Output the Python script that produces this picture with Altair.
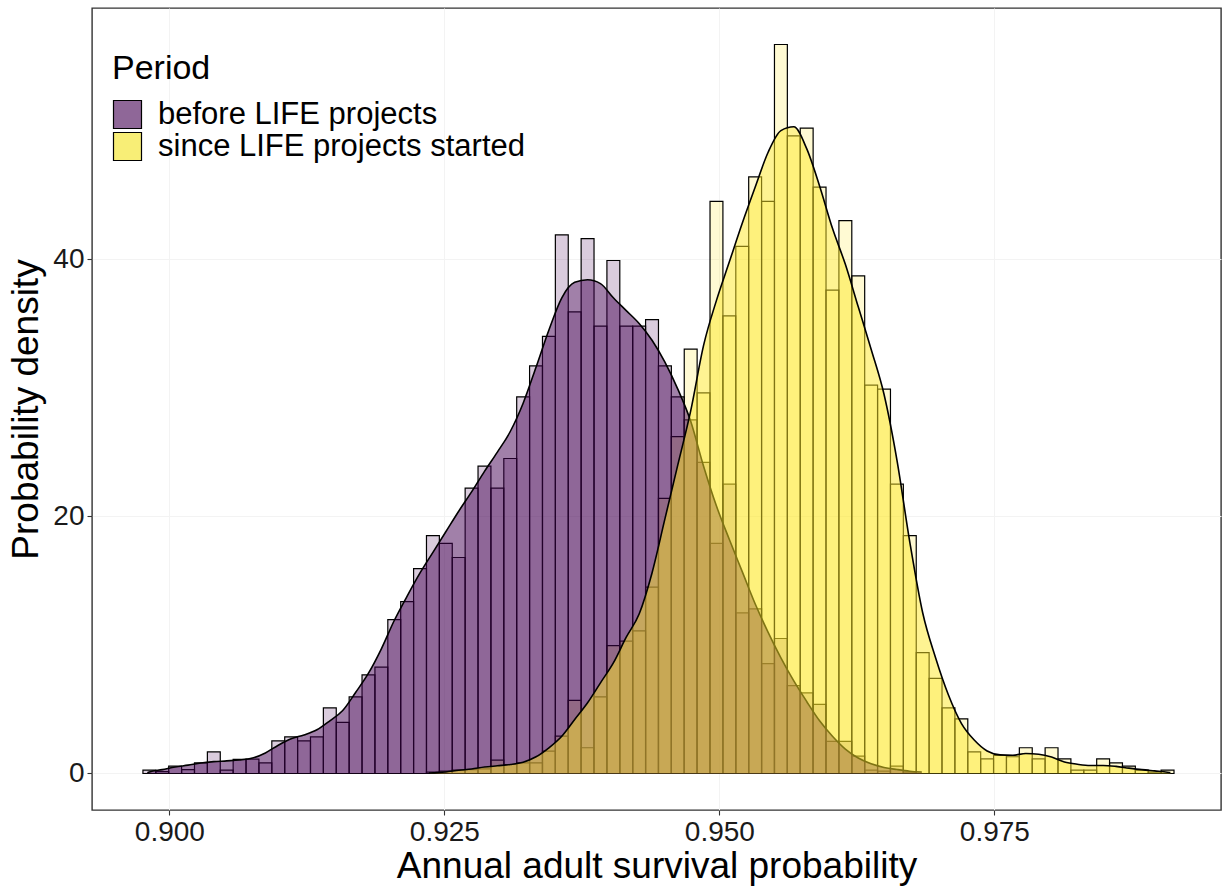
import altair as alt
import pandas as pd
import numpy as np

# ---------------- data ----------------
PERIODS = ["before LIFE projects", "since LIFE projects started"]
FILL_COLORS = ["#440154", "#FDE725"]           # viridis ends
LEGEND_COLORS = ["#8F6798", "#F8EE76"]         # key colours as seen in legend

BIN_START = 0.8976
BIN_WIDTH = 0.0011716
N_BINS = 80

BEFORE_HIST = [
    0.26, 0.15, 0.57, 0.30, 0.83, 1.68, 0.26, 1.09, 1.11, 0.83,
    2.54, 2.85, 2.54, 2.85, 5.10, 3.97, 5.96, 7.67, 8.27, 11.97,
    13.37, 15.94, 18.50, 17.90, 16.80, 22.20, 23.90, 22.20, 24.50, 29.30,
    31.70, 34.00, 41.90, 35.90, 41.60, 34.80, 39.90, 34.80, 34.80, 35.30,
    31.70, 29.30, 27.50, 24.20, 17.90, 22.50, 12.50, 12.80, 8.55, 10.50,
    6.84, 6.27, 5.37, 2.50, 2.50, 1.35, 0.26, 0.18, 0.57, 0.10,
    0, 0, 0, 0, 0, 0, 0, 0, 0, 0,
    0, 0, 0, 0, 0, 0, 0, 0, 0, 0,
]

SINCE_HIST = [
    0, 0, 0, 0, 0, 0, 0, 0, 0, 0,
    0, 0, 0, 0, 0, 0, 0, 0, 0, 0,
    0, 0, 0.10, 0.18, 0.26, 0.30, 0.36, 1.04, 0.70, 0.83,
    0.83, 1.74, 2.90, 5.68, 2.00, 5.96, 9.95, 10.30, 11.10, 14.50,
    21.40, 26.20, 33.00, 29.60, 44.50, 35.60, 41.00, 46.40, 44.50, 56.70,
    49.60, 50.20, 45.60, 37.60, 43.00, 38.70, 30.20, 29.90, 22.50, 18.50,
    9.40, 7.40, 5.10, 4.25, 1.68, 1.14, 1.40, 1.30, 2.00, 1.14,
    2.00, 1.14, 0.26, 0.26, 1.14, 0.83, 0.57, 0.26, 0.10, 0.26,
]

# density curves, sampled at bin centres (first bin index given), plus end points
BEFORE_DENS_FIRST_BIN = 0
BEFORE_DENS = [
    0.12, 0.30, 0.50, 0.65, 0.82, 0.92, 0.98, 1.05, 1.20, 1.60,
    2.20, 2.70, 3.00, 3.40, 4.10, 4.90, 6.30, 7.80, 9.70, 11.90,
    13.80, 15.60, 17.20, 18.80, 20.40, 21.90, 23.50, 25.00, 26.60, 28.80,
    31.60, 34.50, 37.00, 38.20, 38.40, 38.10, 37.00, 36.00, 35.00, 33.70,
    32.00, 29.90, 27.40, 23.90, 20.80, 18.20, 15.70, 13.20, 11.00, 9.00,
    7.20, 5.60, 4.10, 2.90, 1.90, 1.20, 0.75, 0.47, 0.31, 0.18,
]
BEFORE_DENS_START = (0.8980, 0.06)
BEFORE_DENS_END = (0.9684, 0.12)

SINCE_DENS_FIRST_BIN = 22
SINCE_DENS = [
    0.05, 0.12, 0.25, 0.35, 0.50, 0.60, 0.70, 0.88,
    1.30, 2.00, 2.90, 4.20, 5.50, 7.05, 8.60, 10.60, 12.40, 15.60,
    19.80, 24.00, 28.20, 33.30, 36.80, 39.80, 42.80, 45.60, 48.30, 50.00,
    50.30, 48.60, 45.70, 42.40, 39.60, 36.30, 33.00, 29.50, 24.40, 18.00,
    12.50, 9.00, 6.10, 3.90, 2.60, 1.75, 1.45, 1.42, 1.55, 1.50,
    1.28, 0.90, 0.72, 0.62, 0.62, 0.55, 0.42, 0.30, 0.20, 0.10,
]
SINCE_DENS_START = (0.9236, 0.03)
SINCE_DENS_END = (0.9910, 0.07)

X_TICKS = [0.900, 0.925, 0.950, 0.975]
Y_TICKS = [0, 20, 40]

# ---------------- tables ----------------
def hist_table(values, period):
    idx = np.arange(N_BINS)
    x0 = BIN_START + idx * BIN_WIDTH
    return pd.DataFrame({"period": period, "x": x0, "x1": x0 + BIN_WIDTH, "dens": values})


def dens_table(values, first_bin, start, end, period):
    idx = np.arange(first_bin, first_bin + len(values))
    xs = list(BIN_START + (idx + 0.5) * BIN_WIDTH)
    return pd.DataFrame({
        "period": period,
        "x": [start[0]] + xs + [end[0]],
        "dens": [start[1]] + list(values) + [end[1]],
    })


hist_b = hist_table(BEFORE_HIST, PERIODS[0])
hist_s = hist_table(SINCE_HIST, PERIODS[1])
dens_b = dens_table(BEFORE_DENS, BEFORE_DENS_FIRST_BIN, BEFORE_DENS_START, BEFORE_DENS_END, PERIODS[0])
dens_s = dens_table(SINCE_DENS, SINCE_DENS_FIRST_BIN, SINCE_DENS_START, SINCE_DENS_END, PERIODS[1])
legend_df = pd.concat([dens_b.head(1), dens_s.head(1)])

# ---------------- scales / axes ----------------
FONT = "Liberation Sans"
xscale = alt.Scale(domain=[0.89297, 0.99560], nice=False, zero=False)
yscale = alt.Scale(domain=[-2.84, 59.54], nice=False, zero=False)

xaxis = alt.Axis(values=X_TICKS, format=".3f", labelFontSize=28, titleFontSize=37,
                 labelPadding=3, titlePadding=2, tickSize=5, tickColor="#333333",
                 tickWidth=1.1, domain=False, grid=True, gridColor="#F3F3F3",
                 labelColor="#1a1a1a", titleColor="black", titleFontWeight="normal",
                 labelFont=FONT, titleFont=FONT, labelFlush=False, labelOverlap=False)
yaxis = alt.Axis(values=Y_TICKS, labelFontSize=28, titleFontSize=37,
                 labelPadding=3, titlePadding=7, tickSize=5, tickColor="#333333",
                 tickWidth=1.1, domain=False, grid=True, gridColor="#F3F3F3",
                 labelColor="#1a1a1a", titleColor="black", titleFontWeight="normal",
                 labelFont=FONT, titleFont=FONT, labelFlush=False, labelOverlap=False)

X_TITLE = "Annual adult survival probability"
Y_TITLE = "Probability density"


def X():
    return alt.X("x:Q", scale=xscale, axis=xaxis, title=X_TITLE)


def Y():
    return alt.Y("dens:Q", scale=yscale, axis=yaxis, title=Y_TITLE)


def hist_layer(df, color):
    return alt.Chart(df).mark_rect(
        fill=color, fillOpacity=0.2, stroke="black", strokeWidth=1.2
    ).encode(x=X(), x2="x1:Q", y=Y(), y2=alt.datum(0))


def area_layer(df, color):
    return alt.Chart(df).mark_area(
        interpolate="monotone", fill=color, fillOpacity=0.5
    ).encode(x=X(), y=Y(), y2=alt.datum(0))


def line_layer(df):
    return alt.Chart(df).mark_line(
        interpolate="monotone", color="black", strokeWidth=1.6
    ).encode(x=X(), y=Y())


legend_layer = alt.Chart(legend_df).mark_rect(strokeWidth=0).encode(
    x=X(),
    x2="x:Q",
    y=alt.datum(0),
    y2=alt.datum(0),
    color=alt.Color(
        "period:N",
        scale=alt.Scale(domain=PERIODS, range=LEGEND_COLORS),
        legend=alt.Legend(
            title="Period", orient="none", legendX=20, legendY=44,
            symbolType="square", symbolSize=784, symbolStrokeColor="black",
            symbolStrokeWidth=1.2, symbolOpacity=1,
            labelFontSize=31, titleFontSize=34, titleFontWeight="normal",
            labelFont=FONT, titleFont=FONT, labelColor="black", titleColor="black",
            labelOffset=15, rowPadding=-8, titlePadding=13, padding=0,
            labelLimit=600,
        ),
    ),
)

chart = alt.layer(
    hist_layer(hist_b, FILL_COLORS[0]),
    hist_layer(hist_s, FILL_COLORS[1]),
    area_layer(dens_b, FILL_COLORS[0]),
    line_layer(dens_b),
    area_layer(dens_s, FILL_COLORS[1]),
    line_layer(dens_s),
    legend_layer,
).properties(
    width=1129,
    height=802,
    autosize=alt.AutoSizeParams(type="none"),
    padding={"left": 92, "top": 8, "right": 2, "bottom": 77},
    background="white",
).configure(
    font=FONT
).configure_view(
    stroke="#333333", strokeWidth=1.4
)

chart.save("out.html", embed_options={"renderer": "svg", "actions": False})
